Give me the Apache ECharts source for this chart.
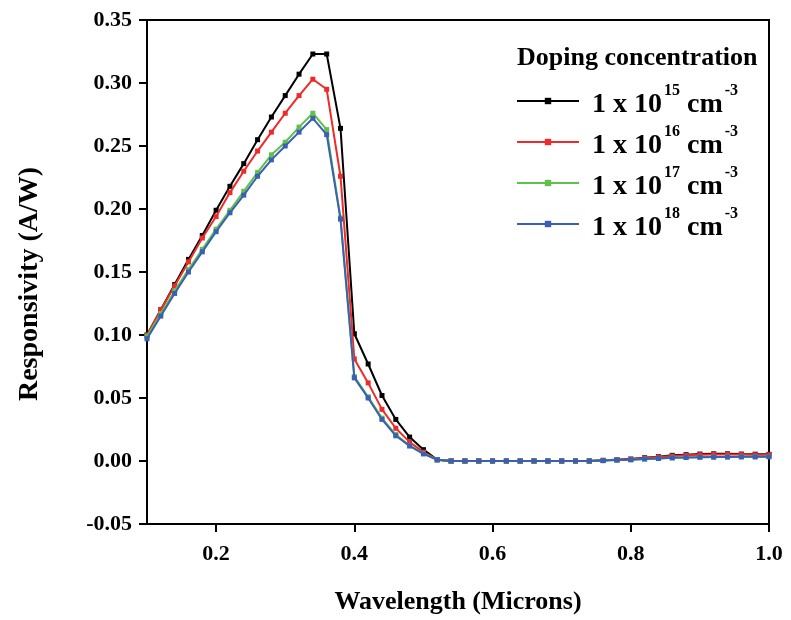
<!DOCTYPE html>
<html>
<head>
<meta charset="utf-8">
<script src="https://cdn.jsdelivr.net/npm/echarts@6/dist/echarts.min.js"></script>
<style>html,body{margin:0;padding:0;background:#fff;}#c{width:791px;height:620px;}</style>
</head>
<body>
<div id="c"></div>
<script>
var wavelength = [0.10,0.12,0.14,0.16,0.18,0.20,0.22,0.24,0.26,0.28,0.30,0.32,0.34,0.36,0.38,0.40,0.42,0.44,0.46,0.48,0.50,0.52,0.54,0.56,0.58,0.60,0.62,0.64,0.66,0.68,0.70,0.72,0.74,0.76,0.78,0.80,0.82,0.84,0.86,0.88,0.90,0.92,0.94,0.96,0.98,1.00];
var dop15 = [0.100,0.120,0.140,0.160,0.179,0.199,0.218,0.236,0.255,0.273,0.290,0.307,0.323,0.323,0.264,0.101,0.077,0.052,0.033,0.019,0.009,0.001,0,0,0,0,0,0,0,0,0,0,0,0.0005,0.001,0.0015,0.0026,0.0034,0.0045,0.005,0.0055,0.0057,0.0057,0.0055,0.0054,0.0053];
var dop16 = [0.100,0.120,0.139,0.158,0.177,0.194,0.213,0.230,0.246,0.261,0.276,0.290,0.303,0.295,0.226,0.081,0.062,0.041,0.026,0.015,0.007,0.001,0,0,0,0,0,0,0,0,0,0,0,0.0005,0.001,0.0015,0.0024,0.0031,0.004,0.0045,0.005,0.0052,0.0052,0.0051,0.005,0.005];
var dop17 = [0.099,0.117,0.135,0.152,0.168,0.184,0.199,0.214,0.229,0.243,0.253,0.265,0.276,0.263,0.193,0.067,0.051,0.034,0.021,0.012,0.006,0.001,0,0,0,0,0,0,0,0,0,0,0,0.0003,0.0008,0.001,0.0016,0.002,0.0025,0.0028,0.003,0.0031,0.0032,0.0033,0.0033,0.0034];
var dop18 = [0.097,0.115,0.133,0.150,0.166,0.182,0.197,0.211,0.226,0.239,0.250,0.261,0.272,0.259,0.192,0.066,0.050,0.033,0.020,0.012,0.0056,0.001,0,0,0,0,0,0,0,0,0,0,0,0.0003,0.0008,0.001,0.0016,0.002,0.0025,0.0028,0.003,0.0031,0.0032,0.0033,0.0033,0.0034];
var seriesNames = ['15','16','17','18'];
var seriesColors = ['#000000','#ee2a2a','#5ec24a','#3a5fb4'];
var xTicks = [0.2,0.4,0.6,0.8,1.0];

var FONT = '"Liberation Serif","Times New Roman",serif';
function pairs(arr){ return wavelength.map(function(x,i){ return [x, arr[i]]; }); }
var allData = [dop15, dop16, dop17, dop18];

var chart = echarts.init(document.getElementById('c'));
chart.setOption({
  animation: false,
  backgroundColor: '#fff',
  grid: { left: 147, right: 22, top: 20, bottom: 96, show: true, borderColor: '#000', borderWidth: 2, containLabel: false },
  title: {
    text: 'Doping concentration', left: 512, top: 40,
    textStyle: { fontFamily: FONT, fontWeight: 'bold', fontSize: 26, color: '#000' }
  },
  legend: {
    orient: 'vertical', left: 511, top: 78, itemGap: 5, itemWidth: 62, itemHeight: 8,
    data: seriesNames,
    formatter: function(n){ return '{f|1 x 10}{s|' + n + '}{a|cm}{s|-3}'; },
    textStyle: {
      fontFamily: FONT, fontWeight: 'bold', fontSize: 28, color: '#000',
      rich: {
        f: { fontFamily: FONT, fontWeight: 'bold', fontSize: 28, color: '#000', lineHeight: 36, verticalAlign: 'bottom', padding: [0,0,0,8] },
        a: { fontFamily: FONT, fontWeight: 'bold', fontSize: 28, color: '#000', lineHeight: 36, verticalAlign: 'bottom', padding: [0,0,0,7] },
        s: { fontFamily: FONT, fontWeight: 'bold', fontSize: 16, color: '#000', lineHeight: 16, verticalAlign: 'top', padding: [0,0,0,2] }
      }
    }
  },
  xAxis: {
    type: 'value', min: 0.1, max: 1.0,
    name: 'Wavelength (Microns)', nameLocation: 'middle', nameGap: 65,
    nameTextStyle: { fontFamily: FONT, fontWeight: 'bold', fontSize: 26, color: '#000' },
    axisLine: { show: true, onZero: false, lineStyle: { color: '#000', width: 2 } },
    axisTick: { show: true, inside: false, length: 8, lineStyle: { color: '#000', width: 2 }, customValues: xTicks },
    axisLabel: { margin: 19, fontFamily: FONT, fontWeight: 'bold', fontSize: 22, color: '#000', customValues: xTicks,
      formatter: function(v){ return v.toFixed(1); } },
    splitLine: { show: false }
  },
  yAxis: {
    type: 'value', min: -0.05, max: 0.35, interval: 0.05,
    name: 'Responsivity (A/W)', nameLocation: 'middle', nameGap: 103,
    nameTextStyle: { fontFamily: FONT, fontWeight: 'bold', fontSize: 28, color: '#000', padding: [0, 24, 0, 0] },
    axisLine: { show: true, onZero: false, lineStyle: { color: '#000', width: 2 } },
    axisTick: { show: true, inside: false, length: 8, lineStyle: { color: '#000', width: 2 } },
    axisLabel: { margin: 15, fontFamily: FONT, fontWeight: 'bold', fontSize: 22, color: '#000',
      formatter: function(v){ return v.toFixed(2); } },
    splitLine: { show: false }
  },
  series: seriesNames.map(function(n, i){
    return {
      name: n, type: 'line', data: pairs(allData[i]),
      symbol: 'rect', symbolSize: 5, showSymbol: true,
      lineStyle: { color: seriesColors[i], width: 2 },
      itemStyle: { color: seriesColors[i] },
      z: 2 + i
    };
  })
});
</script>
</body>
</html>
